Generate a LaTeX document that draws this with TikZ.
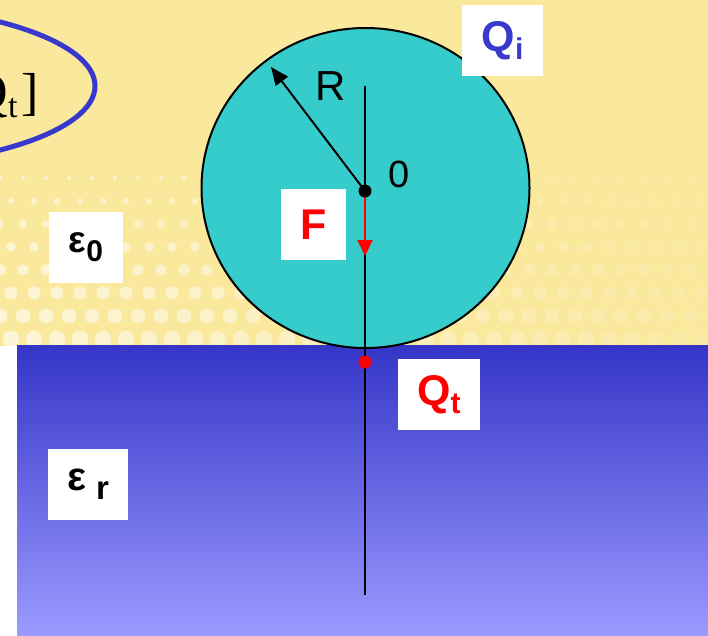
\documentclass[tikz,border=0pt]{standalone}
\usepackage{fontspec}
\setmainfont{Liberation Serif}
\newfontfamily\arial{Liberation Sans}
\usetikzlibrary{arrows.meta}
\definecolor{bgyellow}{RGB}{250,232,156}
\definecolor{sphere}{RGB}{54,204,204}
\definecolor{qblue}{RGB}{58,58,204}
\definecolor{ringblue}{RGB}{56,56,204}
\definecolor{subtop}{RGB}{53,53,200}
\definecolor{subbot}{RGB}{154,154,255}
\definecolor{fred}{RGB}{255,0,0}
\tikzset{
  labelbox/.style={fill=white, inner sep=0pt, minimum height=71pt, font=\arial},
  thinline/.style={line width=2pt, draw=black},
}
\begin{document}
\begin{tikzpicture}[x=1pt,y=-1pt]
\useasboundingbox (0,0) rectangle (708,635);
\clip (0,0) rectangle (708,635);
% background
\fill[white] (0,0) rectangle (708,635);
\fill[bgyellow] (0,0) rectangle (708,346);
% halftone dots
\foreach \r in {0,...,7}{
  \foreach \c in {0,...,33}{
    \pgfmathsetmacro\yy{178+\r*23}
    \pgfmathsetmacro\xx{\c*23+11*mod(\r,2)}
    \pgfmathsetmacro\rad{2+\r*0.9}
    \pgfmathsetmacro\op{max(0.1,0.6-0.5*\xx/708)}
    \fill[white, opacity=\op] (\xx,\yy) circle (\rad);
  }
}
% substrate
\shade[top color=subtop, bottom color=subbot] (17,345) rectangle (708,635);
% top-left ring with formula fragment
\node[anchor=base east, font=\fontsize{52}{52}\selectfont, inner sep=0pt] (frag) at (39,109)
  {Q\raisebox{-8pt}{\fontsize{34}{34}\selectfont t}\hspace{4pt}]};
\draw[ringblue, line width=5pt] (-150,86) ellipse [x radius=245, y radius=81];
% sphere
\coordinate (c) at (365.5,188);
\draw[fill=sphere, line width=2pt] (c) ellipse [x radius=164, y radius=160];
% axis line
\coordinate (top) at (365,86);
\coordinate (bot) at (365,595);
\coordinate (o) at (365,191);
\coordinate (q) at (365,362);
\coordinate (rtip) at (271,67);
\coordinate (ftip) at (365,256);
\draw[thinline] (top) -- (bot);
% radius arrow
\draw[line width=2pt, -{Triangle[length=18pt,width=15pt]}] (o) -- (rtip);
% force arrow
\draw[fred, line width=2pt, -{Triangle[length=16pt,width=15pt]}] (o) -- (ftip);
\fill[black] (o) circle (6.5);
\fill[fred] (q) circle (6.5);
% labels
\node[font=\arial\fontsize{42}{42}\selectfont, inner sep=0pt] (rl) at (331,86) {R};
\node[font=\arial\fontsize{38}{38}\selectfont, inner sep=0pt] (zl) at (399,174) {0};
\node[labelbox, minimum width=81pt, text=qblue] (qi) at (502.5,40.5)
  {\fontsize{43}{43}\selectfont\bfseries Q\raisebox{-8pt}{\fontsize{30}{30}\selectfont i}};
\node[labelbox, minimum width=65pt, text=fred] (fl) at (313.5,224.5)
  {\fontsize{43}{43}\selectfont\bfseries F};
\node[labelbox, minimum width=82pt, text=fred] (qt) at (439,394.5)
  {\fontsize{43}{43}\selectfont\bfseries Q\raisebox{-8pt}{\fontsize{30}{30}\selectfont t}};
\node[labelbox, minimum width=74pt] (e0) at (86,247.5)
  {\fontsize{37}{37}\selectfont\bfseries ε\raisebox{-9pt}{\fontsize{30}{30}\selectfont 0}};
\node[labelbox, minimum width=80pt] (er) at (88,484.5)
  {\fontsize{40}{40}\selectfont\bfseries ε\hspace{10pt}\raisebox{-9pt}{\fontsize{33}{33}\selectfont r}};
\end{tikzpicture}
\end{document}
